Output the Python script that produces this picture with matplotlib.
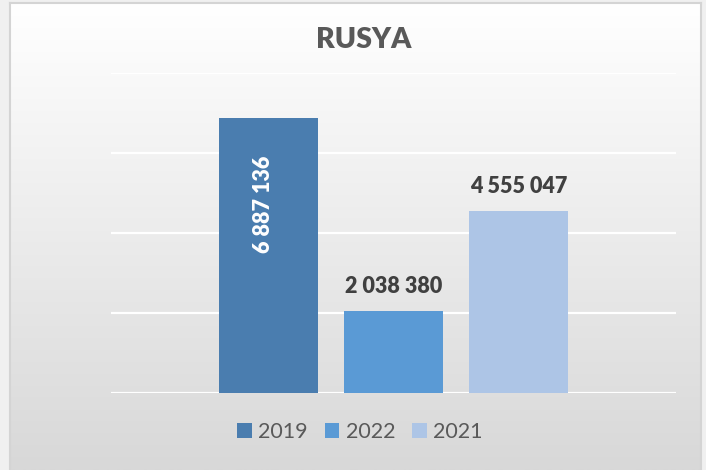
import matplotlib
matplotlib.use("Agg")
import matplotlib.pyplot as plt
import numpy as np
from matplotlib.patches import Patch

title = "RUSYA"
categories = ["2019", "2022", "2021"]
values = [6887136, 2038380, 4555047]
colors = ["#4a7daf", "#5a9ad5", "#adc5e6"]
y_ticks = [0, 2000000, 4000000, 6000000, 8000000]

plt.rcParams['font.family'] = ['Lato', 'DejaVu Sans']

W, H = 706, 470
fig = plt.figure(figsize=(W / 100, H / 100), dpi=100)
fig.patch.set_facecolor("#f0f0f0")

# chart area background with gradient
bg = fig.add_axes([10 / W, 0, 691 / W, 467 / H], zorder=0)
grad = np.linspace(1.0, 0.0, 256).reshape(-1, 1)
top = np.array([255, 255, 255]) / 255
bot = np.array([216, 216, 216]) / 255
img = (grad[..., None] * top + (1 - grad[..., None]) * bot)
bg.imshow(img, aspect="auto", extent=[0, 1, 0, 1], origin="upper")
bg.set_xlim(0, 1)
bg.set_ylim(0, 1)
bg.spines["bottom"].set_visible(False)
for s in ["left", "top", "right"]:
    bg.spines[s].set_color("#d4d4d4")
    bg.spines[s].set_linewidth(1.5)
bg.set_xticks([])
bg.set_yticks([])

ax = fig.add_axes([111 / W, (H - 393) / H, 565 / W, 320 / H], zorder=1)
ax.patch.set_alpha(0)
x = np.arange(len(categories))
bars = ax.bar(x, values, width=0.792, color=colors, zorder=3)
ax.set_xlim(-1.26, 3.26)
ax.set_ylim(0, 8000000)
ax.set_yticks(y_ticks)
for t in y_ticks:
    ax.axhline(t, color="white", linewidth=1.6, zorder=1)
ax.set_xticks([])
ax.tick_params(left=False, labelleft=False)
for s in ax.spines.values():
    s.set_visible(False)

def fmt(v):
    return f"{v:,}".replace(",", " ")

for i, (xi, v) in enumerate(zip(x, values)):
    if i == 0:
        ax.annotate(fmt(v), (xi, v), xytext=(-5, -38), textcoords="offset pixels",
                    rotation=90, ha="center", va="top", color="white",
                    fontsize=15.5, fontweight="heavy", zorder=4)
    else:
        ax.annotate(fmt(v), (xi, v), xytext=(0, 18), textcoords="offset pixels",
                    ha="center", va="baseline", color="#404040",
                    fontsize=15.5, fontweight="heavy", zorder=4)

fig.text(364 / W, 1 - 40 / H, title, ha="center", va="center",
         fontsize=20.5, fontweight="heavy", color="#595959")

handles = [Patch(facecolor=c, edgecolor="none") for c in colors]
leg = fig.legend(handles, categories, loc="center", bbox_to_anchor=(360 / W, 1 - 432 / H),
                 ncol=3, frameon=False, fontsize=15.5, handlelength=0.66, handleheight=0.66,
                 handletextpad=0.3, columnspacing=0.8, borderpad=0)
for t in leg.get_texts():
    t.set_color("#595959")

fig.savefig("out.png", dpi=100, facecolor=fig.get_facecolor())
